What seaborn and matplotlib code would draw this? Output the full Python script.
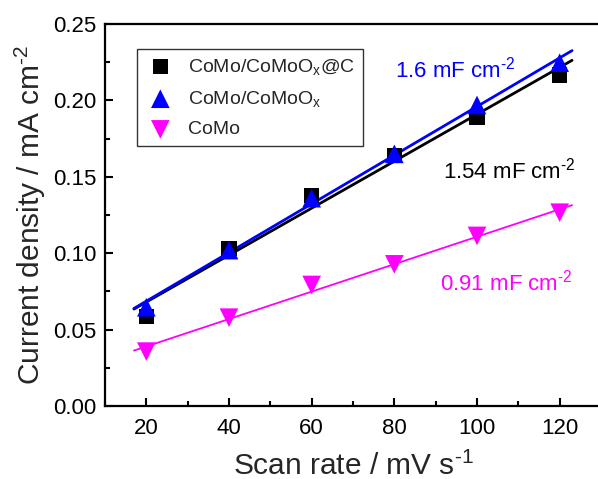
import numpy as np
import pandas as pd
import matplotlib
matplotlib.use("Agg")
import matplotlib.pyplot as plt
from matplotlib.ticker import MultipleLocator, FormatStrFormatter
import seaborn as sns

# Scan rates (mV/s) and current densities (mA/cm^2)
scan_rate = [20, 40, 60, 80, 100, 120]
como_comoox_c = [0.0584, 0.103, 0.138, 0.164, 0.189, 0.2166]
como_comoox = [0.0646, 0.102, 0.136, 0.165, 0.197, 0.2247]
como = [0.0356, 0.0578, 0.0792, 0.0927, 0.1113, 0.1265]

series_names = ["CoMo/CoMoO$_{\\mathrm{x}}$@C", "CoMo/CoMoO$_{\\mathrm{x}}$", "CoMo"]
capacitance_labels = ["1.54 mF cm$^{\\text{-2}}$", "1.6 mF cm$^{\\text{-2}}$",
                      "0.91 mF cm$^{\\text{-2}}$"]

sns.set_theme(style="ticks")
plt.rcParams["font.family"] = ["Liberation Sans", "DejaVu Sans"]
plt.rcParams["mathtext.fontset"] = "custom"
plt.rcParams["mathtext.rm"] = "Liberation Sans"
plt.rcParams["mathtext.it"] = "Liberation Sans"
plt.rcParams["mathtext.default"] = "regular"

fig = plt.figure(figsize=(5.98, 4.79), dpi=100)
ax = fig.add_axes([105 / 598, 73 / 479, 496 / 598, 382 / 479])

styles = [
    dict(values=como_comoox_c, color="black", marker="s", size=120, lw=2.0),
    dict(values=como_comoox, color="#0000ff", marker="^", size=180, lw=2.0),
    dict(values=como, color="#ff00ff", marker="v", size=180, lw=1.3),
]

x_fit = np.linspace(17, 123, 50)
for name, st in zip(series_names, styles):
    df = pd.DataFrame({"rate": scan_rate, "j": st["values"]})
    slope, intercept = np.polyfit(df["rate"], df["j"], 1)
    ax.plot(x_fit, slope * x_fit + intercept, color=st["color"], lw=st["lw"], zorder=2)
    sns.scatterplot(data=df, x="rate", y="j", ax=ax, color=st["color"],
                    marker=st["marker"], s=st["size"], edgecolor="none",
                    zorder=3, label=name)

ax.set_xlim(10, 130)
ax.set_ylim(0, 0.25)
ax.xaxis.set_major_locator(MultipleLocator(20))
ax.xaxis.set_minor_locator(MultipleLocator(10))
ax.yaxis.set_major_locator(MultipleLocator(0.05))
ax.yaxis.set_minor_locator(MultipleLocator(0.025))
ax.yaxis.set_major_formatter(FormatStrFormatter("%.2f"))

ax.tick_params(which="both", direction="in", width=1.5, labelsize=16, colors="black")
ax.tick_params(which="major", length=6)
ax.tick_params(axis="y", which="major", pad=6)
ax.tick_params(axis="x", which="major", pad=8.5)
ax.tick_params(which="minor", length=3.5)
for sp in ax.spines.values():
    sp.set_linewidth(1.6)
    sp.set_color("black")

ax.set_xlabel("Scan rate / mV s$^{\\text{-1}}$", fontsize=21.5, labelpad=9)
ax.set_ylabel("Current density / mA cm$^{\\text{-2}}$", fontsize=21.5, labelpad=4)

ax.annotate(capacitance_labels[1], xy=(80.2, 0.2199), color="#0000ff",
            fontsize=16, ha="left", va="center")
ax.annotate(capacitance_labels[0], xy=(91.8, 0.1540), color="black",
            fontsize=16, ha="left", va="center")
ax.annotate(capacitance_labels[2], xy=(91.0, 0.0810), color="#ff00ff",
            fontsize=16, ha="left", va="center")

leg = ax.legend(loc="upper left", bbox_to_anchor=(32 / 496, 1 - 25 / 382),
                frameon=True, fancybox=False, fontsize=14, handletextpad=0.6,
                borderpad=0.4, labelspacing=0.62, handlelength=1.6,
                borderaxespad=0)
leg.get_frame().set_edgecolor("black")
leg.get_frame().set_linewidth(1.0)

fig.savefig("out.png", dpi=100)
